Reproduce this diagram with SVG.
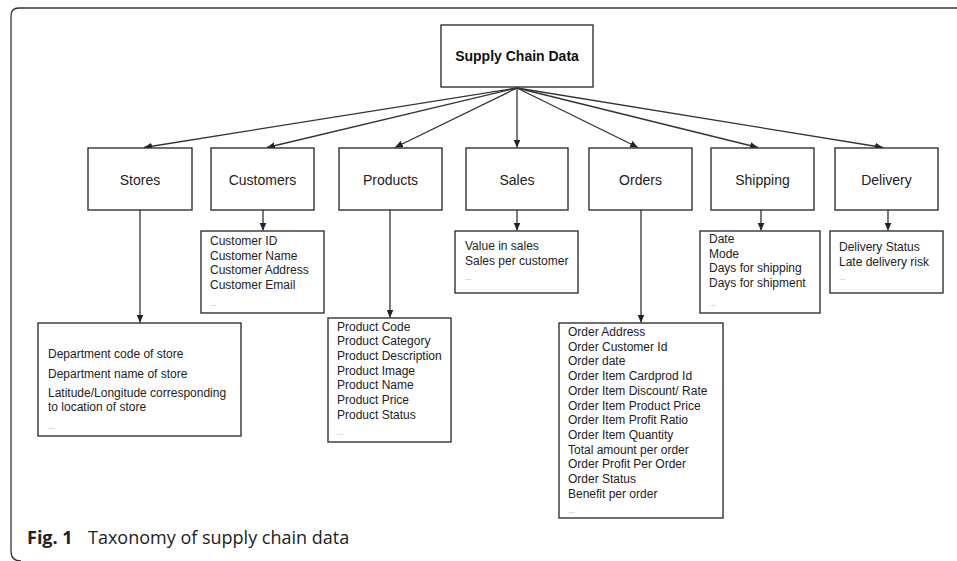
<svg xmlns="http://www.w3.org/2000/svg" width="957" height="561" viewBox="0 0 957 561">
<defs>
<marker id="arr" markerUnits="userSpaceOnUse" markerWidth="9" markerHeight="8" refX="8" refY="3.5" orient="auto">
<path d="M0,0 L8,3.5 L0,7 z" fill="#222"/>
</marker>
<style>
.box{fill:#fff;stroke:#333;stroke-width:1.4}
.t{font-family:"Liberation Sans",Arial,sans-serif;font-size:12px;fill:#222}
.h{font-family:"Liberation Sans",Arial,sans-serif;font-size:14px;fill:#222;text-anchor:middle}
.b{font-family:"Liberation Sans",Arial,sans-serif;font-size:14px;font-weight:bold;fill:#111;text-anchor:middle}
.d{font-family:"Liberation Sans",Arial,sans-serif;font-size:8px;fill:#999}
.c{stroke:#333;stroke-width:1.3;fill:none;marker-end:url(#arr)}
.cap{font-family:"Open Sans","Noto Sans",sans-serif;font-size:18px;fill:#222}
</style>
</defs>
<rect width="957" height="561" fill="#fff"/>
<path d="M957,8 H19 Q11,8 11,16 V551 Q11,561 21,561" fill="none" stroke="#333" stroke-width="1.3"/>

<g id="connectors">
<line class="c" x1="517" y1="88" x2="144" y2="147.5"/>
<line class="c" x1="517" y1="88" x2="267" y2="147.5"/>
<line class="c" x1="517" y1="88" x2="395" y2="147.5"/>
<line class="c" x1="517" y1="88" x2="517" y2="147.5"/>
<line class="c" x1="517" y1="88" x2="638" y2="147.5"/>
<line class="c" x1="517" y1="88" x2="758" y2="147.5"/>
<line class="c" x1="517" y1="88" x2="883" y2="147.5"/>
<line class="c" x1="140" y1="210" x2="140" y2="322.5"/>
<line class="c" x1="263" y1="210" x2="263" y2="230.5"/>
<line class="c" x1="390" y1="210" x2="390" y2="317.5"/>
<line class="c" x1="517" y1="210" x2="517" y2="230.5"/>
<line class="c" x1="641" y1="210" x2="641" y2="322.5"/>
<line class="c" x1="761" y1="210" x2="761" y2="230.5"/>
<line class="c" x1="888" y1="210" x2="888" y2="230.5"/>
</g>

<g id="root">
<rect class="box" x="441" y="25" width="152" height="62"/>
<text class="b" x="517" y="61">Supply Chain Data</text>
</g>

<g id="stores">
<rect class="box" x="88" y="148" width="104" height="62"/>
<text class="h" x="140" y="185">Stores</text>
</g>
<g id="customers">
<rect class="box" x="211" y="148" width="103" height="62"/>
<text class="h" x="262.5" y="185">Customers</text>
</g>
<g id="products">
<rect class="box" x="339" y="148" width="103" height="62"/>
<text class="h" x="390.5" y="185">Products</text>
</g>
<g id="sales">
<rect class="box" x="466" y="148" width="102" height="62"/>
<text class="h" x="517" y="185">Sales</text>
</g>
<g id="orders">
<rect class="box" x="589" y="148" width="103" height="62"/>
<text class="h" x="640.5" y="185">Orders</text>
</g>
<g id="shipping">
<rect class="box" x="711" y="148" width="103" height="62"/>
<text class="h" x="762.5" y="185">Shipping</text>
</g>
<g id="delivery">
<rect class="box" x="835" y="148" width="103" height="62"/>
<text class="h" x="886.5" y="185">Delivery</text>
</g>

<g id="stores-attrs">
<rect class="box" x="38" y="323" width="203" height="113"/>
<text class="t" x="48" y="357.5">Department code of store</text>
<text class="t" x="48" y="377.5">Department name of store</text>
<text class="t" x="48" y="396.5">Latitude/Longitude corresponding</text>
<text class="t" x="48" y="411">to location of store</text>
<text class="d" x="48" y="429">...</text>
</g>

<g id="customers-attrs">
<rect class="box" x="201" y="231" width="123" height="82"/>
<text class="t" x="210" y="245">Customer ID</text>
<text class="t" x="210" y="259.6">Customer Name</text>
<text class="t" x="210" y="274.2">Customer Address</text>
<text class="t" x="210" y="288.8">Customer Email</text>
<text class="d" x="210" y="306">...</text>
</g>

<g id="products-attrs">
<rect class="box" x="328" y="318" width="123" height="124"/>
<text class="t" x="337" y="330.5">Product Code</text>
<text class="t" x="337" y="345.2">Product Category</text>
<text class="t" x="337" y="359.9">Product Description</text>
<text class="t" x="337" y="374.6">Product Image</text>
<text class="t" x="337" y="389.3">Product Name</text>
<text class="t" x="337" y="404">Product Price</text>
<text class="t" x="337" y="418.7">Product Status</text>
<text class="d" x="337" y="435">...</text>
</g>

<g id="sales-attrs">
<rect class="box" x="455" y="231" width="123" height="62"/>
<text class="t" x="465" y="250">Value in sales</text>
<text class="t" x="465" y="264.6">Sales per customer</text>
<text class="d" x="465" y="280">...</text>
</g>

<g id="orders-attrs">
<rect class="box" x="559" y="323" width="164" height="195"/>
<text class="t" x="568" y="336">Order Address</text>
<text class="t" x="568" y="350.7">Order Customer Id</text>
<text class="t" x="568" y="365.4">Order date</text>
<text class="t" x="568" y="380.1">Order Item Cardprod Id</text>
<text class="t" x="568" y="394.8">Order Item Discount/ Rate</text>
<text class="t" x="568" y="409.5">Order Item Product Price</text>
<text class="t" x="568" y="424.2">Order Item Profit Ratio</text>
<text class="t" x="568" y="438.9">Order Item Quantity</text>
<text class="t" x="568" y="453.6">Total amount per order</text>
<text class="t" x="568" y="468.3">Order Profit Per Order</text>
<text class="t" x="568" y="483">Order Status</text>
<text class="t" x="568" y="497.7">Benefit per order</text>
<text class="d" x="568" y="513">...</text>
</g>

<g id="shipping-attrs">
<rect class="box" x="700" y="231" width="120" height="82"/>
<text class="t" x="709" y="243">Date</text>
<text class="t" x="709" y="257.6">Mode</text>
<text class="t" x="709" y="272.2">Days for shipping</text>
<text class="t" x="709" y="286.8">Days for shipment</text>
<text class="d" x="709" y="306">...</text>
</g>

<g id="delivery-attrs">
<rect class="box" x="830" y="231" width="113" height="62"/>
<text class="t" x="839" y="251">Delivery Status</text>
<text class="t" x="839" y="265.6">Late delivery risk</text>
<text class="d" x="839" y="280">...</text>
</g>

<g id="caption">
<text class="cap" x="27" y="544" font-weight="bold">Fig. 1</text>
<text class="cap" x="88" y="544">Taxonomy of supply chain data</text>
</g>
</svg>
